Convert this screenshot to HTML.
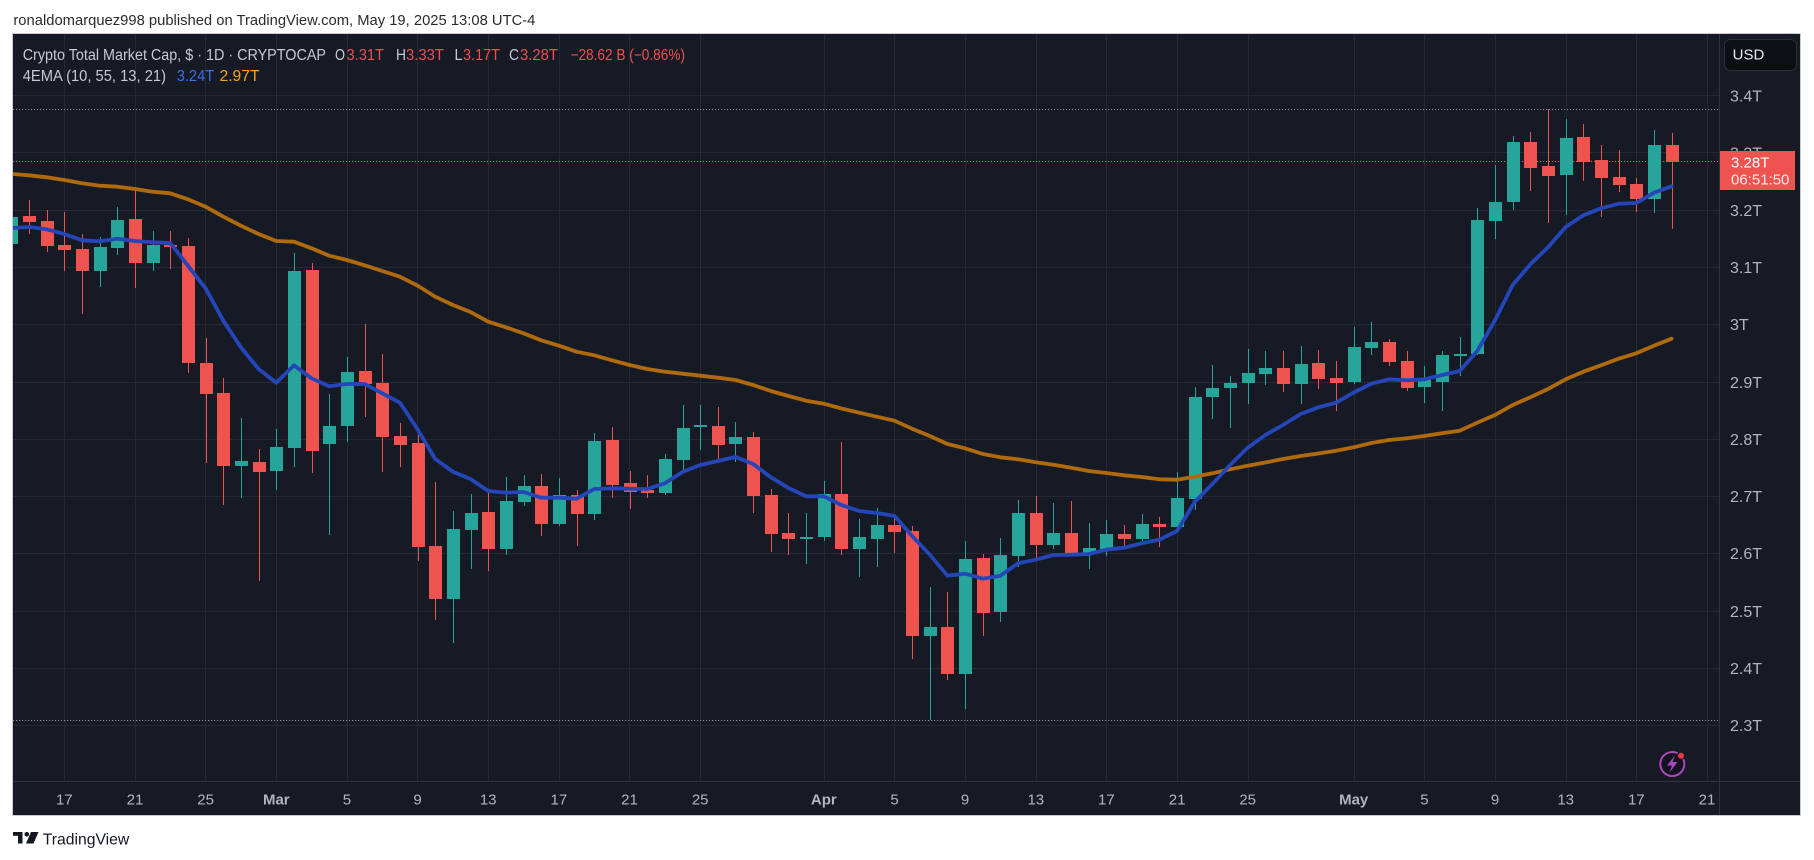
<!DOCTYPE html>
<html><head><meta charset="utf-8"><style>
html,body{margin:0;padding:0;background:#fff;}
svg{display:block;font-family:"Liberation Sans",sans-serif;}
</style></head><body>
<svg width="1814" height="860" viewBox="0 0 1814 860" xmlns="http://www.w3.org/2000/svg">
<defs><clipPath id="c"><rect x="13" y="34" width="1706" height="747"/></clipPath></defs>
<rect width="1814" height="860" fill="#fff"/>
<text x="13.4" y="25" font-size="15" fill="#2b2b2e" textLength="522" lengthAdjust="spacingAndGlyphs">ronaldomarquez998 published on TradingView.com, May 19, 2025 13:08 UTC-4</text>
<rect x="12.5" y="33.5" width="1788" height="782" fill="#161a25" stroke="#c9cbd1" stroke-width="1"/>
<g stroke="#252935" stroke-width="1" shape-rendering="crispEdges">
<line x1="64.5" y1="34" x2="64.5" y2="781"/><line x1="135.5" y1="34" x2="135.5" y2="781"/><line x1="205.5" y1="34" x2="205.5" y2="781"/><line x1="276.5" y1="34" x2="276.5" y2="781"/><line x1="347.5" y1="34" x2="347.5" y2="781"/><line x1="417.5" y1="34" x2="417.5" y2="781"/><line x1="488.5" y1="34" x2="488.5" y2="781"/><line x1="559.5" y1="34" x2="559.5" y2="781"/><line x1="629.5" y1="34" x2="629.5" y2="781"/><line x1="700.5" y1="34" x2="700.5" y2="781"/><line x1="824.5" y1="34" x2="824.5" y2="781"/><line x1="894.5" y1="34" x2="894.5" y2="781"/><line x1="965.5" y1="34" x2="965.5" y2="781"/><line x1="1036.5" y1="34" x2="1036.5" y2="781"/><line x1="1106.5" y1="34" x2="1106.5" y2="781"/><line x1="1177.5" y1="34" x2="1177.5" y2="781"/><line x1="1248.5" y1="34" x2="1248.5" y2="781"/><line x1="1354.5" y1="34" x2="1354.5" y2="781"/><line x1="1424.5" y1="34" x2="1424.5" y2="781"/><line x1="1495.5" y1="34" x2="1495.5" y2="781"/><line x1="1566.5" y1="34" x2="1566.5" y2="781"/><line x1="1636.5" y1="34" x2="1636.5" y2="781"/><line x1="1707.5" y1="34" x2="1707.5" y2="781"/>
<line x1="13" y1="95.5" x2="1719" y2="95.5"/><line x1="13" y1="152.5" x2="1719" y2="152.5"/><line x1="13" y1="210.5" x2="1719" y2="210.5"/><line x1="13" y1="267.5" x2="1719" y2="267.5"/><line x1="13" y1="324.5" x2="1719" y2="324.5"/><line x1="13" y1="382.5" x2="1719" y2="382.5"/><line x1="13" y1="439.5" x2="1719" y2="439.5"/><line x1="13" y1="496.5" x2="1719" y2="496.5"/><line x1="13" y1="553.5" x2="1719" y2="553.5"/><line x1="13" y1="611.5" x2="1719" y2="611.5"/><line x1="13" y1="668.5" x2="1719" y2="668.5"/><line x1="13" y1="725.5" x2="1719" y2="725.5"/>
</g>
<g stroke="#30343f" stroke-width="1" shape-rendering="crispEdges">
<line x1="1719.5" y1="34" x2="1719.5" y2="815"/>
<line x1="13" y1="781.5" x2="1800" y2="781.5"/>
</g>
<g stroke-width="1" fill="none">
<line x1="13" y1="109.5" x2="1719" y2="109.5" stroke="#8a8d96" stroke-dasharray="1.2 1.8"/>
<line x1="13" y1="720.5" x2="1719" y2="720.5" stroke="#8a8d96" stroke-dasharray="1.2 1.8"/>
<line x1="13" y1="161.5" x2="1719" y2="161.5" stroke="#ef5350" stroke-dasharray="1.2 1.8"/>
</g>
<g clip-path="url(#c)" shape-rendering="crispEdges">
<g fill="#ef5350">
<rect x="23" y="216" width="13" height="6"/><rect x="29" y="200" width="1" height="34"/>
<rect x="41" y="221" width="13" height="25"/><rect x="47" y="210" width="1" height="42"/>
<rect x="58" y="245" width="13" height="5"/><rect x="64" y="212" width="1" height="59"/>
<rect x="76" y="249" width="13" height="22"/><rect x="82" y="234" width="1" height="80"/>
<rect x="129" y="219" width="13" height="44"/><rect x="135" y="187" width="1" height="101"/>
<rect x="164" y="245" width="13" height="2"/><rect x="170" y="231" width="1" height="38"/>
<rect x="182" y="246" width="13" height="117"/><rect x="188" y="238" width="1" height="135"/>
<rect x="200" y="363" width="13" height="31"/><rect x="206" y="338" width="1" height="125"/>
<rect x="217" y="393" width="13" height="73"/><rect x="223" y="378" width="1" height="127"/>
<rect x="253" y="462" width="13" height="10"/><rect x="259" y="449" width="1" height="132"/>
<rect x="306" y="270" width="13" height="181"/><rect x="312" y="263" width="1" height="210"/>
<rect x="359" y="371" width="13" height="13"/><rect x="365" y="324" width="1" height="93"/>
<rect x="376" y="383" width="13" height="54"/><rect x="382" y="354" width="1" height="118"/>
<rect x="394" y="436" width="13" height="9"/><rect x="400" y="423" width="1" height="44"/>
<rect x="412" y="443" width="13" height="104"/><rect x="418" y="435" width="1" height="126"/>
<rect x="429" y="546" width="13" height="53"/><rect x="435" y="482" width="1" height="138"/>
<rect x="482" y="512" width="13" height="37"/><rect x="488" y="493" width="1" height="78"/>
<rect x="535" y="486" width="13" height="38"/><rect x="541" y="474" width="1" height="62"/>
<rect x="571" y="495" width="13" height="19"/><rect x="577" y="490" width="1" height="56"/>
<rect x="606" y="440" width="13" height="45"/><rect x="612" y="427" width="1" height="71"/>
<rect x="624" y="483" width="13" height="9"/><rect x="630" y="471" width="1" height="38"/>
<rect x="641" y="490" width="13" height="3"/><rect x="647" y="475" width="1" height="23"/>
<rect x="712" y="426" width="13" height="19"/><rect x="718" y="407" width="1" height="55"/>
<rect x="747" y="437" width="13" height="59"/><rect x="753" y="432" width="1" height="81"/>
<rect x="765" y="495" width="13" height="39"/><rect x="771" y="489" width="1" height="63"/>
<rect x="782" y="533" width="13" height="6"/><rect x="788" y="513" width="1" height="42"/>
<rect x="835" y="494" width="13" height="55"/><rect x="841" y="442" width="1" height="113"/>
<rect x="888" y="525" width="13" height="7"/><rect x="894" y="515" width="1" height="38"/>
<rect x="906" y="531" width="13" height="105"/><rect x="912" y="526" width="1" height="133"/>
<rect x="941" y="627" width="13" height="47"/><rect x="947" y="592" width="1" height="88"/>
<rect x="977" y="558" width="13" height="55"/><rect x="983" y="554" width="1" height="82"/>
<rect x="1030" y="513" width="13" height="32"/><rect x="1036" y="496" width="1" height="64"/>
<rect x="1065" y="533" width="13" height="21"/><rect x="1071" y="501" width="1" height="54"/>
<rect x="1118" y="534" width="13" height="5"/><rect x="1124" y="525" width="1" height="21"/>
<rect x="1153" y="524" width="13" height="3"/><rect x="1159" y="517" width="1" height="30"/>
<rect x="1277" y="368" width="13" height="16"/><rect x="1283" y="351" width="1" height="41"/>
<rect x="1312" y="363" width="13" height="16"/><rect x="1318" y="350" width="1" height="39"/>
<rect x="1330" y="378" width="13" height="5"/><rect x="1336" y="361" width="1" height="50"/>
<rect x="1383" y="342" width="13" height="20"/><rect x="1389" y="339" width="1" height="27"/>
<rect x="1401" y="361" width="13" height="27"/><rect x="1407" y="351" width="1" height="40"/>
<rect x="1524" y="142" width="13" height="26"/><rect x="1530" y="132" width="1" height="59"/>
<rect x="1542" y="166" width="13" height="10"/><rect x="1548" y="109" width="1" height="114"/>
<rect x="1577" y="137" width="13" height="25"/><rect x="1583" y="124" width="1" height="57"/>
<rect x="1595" y="160" width="13" height="18"/><rect x="1601" y="145" width="1" height="72"/>
<rect x="1613" y="177" width="13" height="8"/><rect x="1619" y="150" width="1" height="42"/>
<rect x="1630" y="184" width="13" height="15"/><rect x="1636" y="178" width="1" height="34"/>
<rect x="1666" y="145" width="13" height="17"/><rect x="1672" y="133" width="1" height="96"/>
</g>
<g fill="#26a69a">
<rect x="5" y="217" width="13" height="27"/>
<rect x="94" y="247" width="13" height="24"/><rect x="100" y="237" width="1" height="50"/>
<rect x="111" y="220" width="13" height="28"/><rect x="117" y="207" width="1" height="48"/>
<rect x="147" y="245" width="13" height="18"/><rect x="153" y="231" width="1" height="40"/>
<rect x="235" y="461" width="13" height="5"/><rect x="241" y="418" width="1" height="80"/>
<rect x="270" y="447" width="13" height="24"/><rect x="276" y="429" width="1" height="61"/>
<rect x="288" y="271" width="13" height="177"/><rect x="294" y="253" width="1" height="214"/>
<rect x="323" y="426" width="13" height="18"/><rect x="329" y="394" width="1" height="141"/>
<rect x="341" y="372" width="13" height="54"/><rect x="347" y="357" width="1" height="85"/>
<rect x="447" y="529" width="13" height="70"/><rect x="453" y="511" width="1" height="132"/>
<rect x="465" y="513" width="13" height="17"/><rect x="471" y="494" width="1" height="75"/>
<rect x="500" y="501" width="13" height="48"/><rect x="506" y="477" width="1" height="78"/>
<rect x="518" y="486" width="13" height="16"/><rect x="524" y="475" width="1" height="31"/>
<rect x="553" y="495" width="13" height="29"/><rect x="559" y="478" width="1" height="48"/>
<rect x="588" y="441" width="13" height="73"/><rect x="594" y="433" width="1" height="87"/>
<rect x="659" y="459" width="13" height="34"/><rect x="665" y="454" width="1" height="41"/>
<rect x="677" y="428" width="13" height="32"/><rect x="683" y="405" width="1" height="66"/>
<rect x="694" y="425" width="13" height="2"/><rect x="700" y="405" width="1" height="45"/>
<rect x="729" y="437" width="13" height="7"/><rect x="735" y="422" width="1" height="40"/>
<rect x="800" y="537" width="13" height="2"/><rect x="806" y="513" width="1" height="51"/>
<rect x="818" y="494" width="13" height="43"/><rect x="824" y="481" width="1" height="60"/>
<rect x="853" y="537" width="13" height="12"/><rect x="859" y="519" width="1" height="58"/>
<rect x="871" y="525" width="13" height="14"/><rect x="877" y="508" width="1" height="59"/>
<rect x="924" y="627" width="13" height="9"/><rect x="930" y="587" width="1" height="133"/>
<rect x="959" y="559" width="13" height="115"/><rect x="965" y="541" width="1" height="168"/>
<rect x="994" y="555" width="13" height="57"/><rect x="1000" y="538" width="1" height="84"/>
<rect x="1012" y="513" width="13" height="43"/><rect x="1018" y="500" width="1" height="67"/>
<rect x="1047" y="533" width="13" height="12"/><rect x="1053" y="503" width="1" height="46"/>
<rect x="1083" y="548" width="13" height="6"/><rect x="1089" y="523" width="1" height="46"/>
<rect x="1100" y="534" width="13" height="15"/><rect x="1106" y="520" width="1" height="36"/>
<rect x="1136" y="524" width="13" height="15"/><rect x="1142" y="514" width="1" height="27"/>
<rect x="1171" y="498" width="13" height="29"/><rect x="1177" y="472" width="1" height="60"/>
<rect x="1189" y="397" width="13" height="102"/><rect x="1195" y="387" width="1" height="123"/>
<rect x="1206" y="388" width="13" height="9"/><rect x="1212" y="365" width="1" height="54"/>
<rect x="1224" y="383" width="13" height="5"/><rect x="1230" y="376" width="1" height="52"/>
<rect x="1242" y="373" width="13" height="10"/><rect x="1248" y="349" width="1" height="55"/>
<rect x="1259" y="368" width="13" height="6"/><rect x="1265" y="351" width="1" height="34"/>
<rect x="1295" y="364" width="13" height="20"/><rect x="1301" y="346" width="1" height="58"/>
<rect x="1348" y="347" width="13" height="35"/><rect x="1354" y="327" width="1" height="57"/>
<rect x="1365" y="342" width="13" height="6"/><rect x="1371" y="322" width="1" height="33"/>
<rect x="1418" y="380" width="13" height="7"/><rect x="1424" y="366" width="1" height="37"/>
<rect x="1436" y="355" width="13" height="27"/><rect x="1442" y="351" width="1" height="60"/>
<rect x="1454" y="354" width="13" height="2"/><rect x="1460" y="337" width="1" height="39"/>
<rect x="1471" y="220" width="13" height="134"/><rect x="1477" y="208" width="1" height="147"/>
<rect x="1489" y="202" width="13" height="19"/><rect x="1495" y="165" width="1" height="74"/>
<rect x="1507" y="142" width="13" height="60"/><rect x="1513" y="136" width="1" height="74"/>
<rect x="1560" y="138" width="13" height="37"/><rect x="1566" y="119" width="1" height="96"/>
<rect x="1648" y="145" width="13" height="54"/><rect x="1654" y="130" width="1" height="83"/>
</g>
</g>
<g clip-path="url(#c)" fill="none" stroke-width="3.8" stroke-linejoin="round" stroke-linecap="round">
<polyline stroke="#b06a0e" points="13,174 29,175.3 46.6,177.3 64.3,180 82,183.3 99.6,185.7 117.3,186.7 135,189 152.6,191.7 170.3,193.3 187.9,199.3 205.6,206.7 223.3,216.7 240.9,225.7 258.6,234 276.3,241 293.9,241.7 311.6,248.3 329.2,255.7 346.9,260 364.6,265.3 382.2,271 399.9,276.7 417.6,285.7 435.2,296.7 452.9,305 470.5,312 488.2,321.7 505.9,327.3 523.5,333.3 541.2,340.3 558.9,345.7 576.5,351.7 594.2,355.3 611.9,360.3 629.5,365 647.2,369 664.8,371.7 682.5,373.7 700.2,375.7 717.8,377.7 735.5,380 753.2,385 770.8,391 788.5,396 806.1,400.7 823.8,403.7 841.5,408.5 859.1,412.7 876.8,416.7 894.5,420.7 912.1,428.7 929.8,436 947.5,444 965.1,448.3 982.8,454 1000.4,457.3 1018.1,459.3 1035.8,462.3 1053.4,464.7 1071.1,467.7 1088.8,471 1106.4,473 1124.1,475.3 1141.7,477 1159.4,479.3 1177.1,479.7 1194.7,476.7 1212.4,473.3 1230.1,469.3 1247.7,465.7 1265.4,462.5 1283,459 1300.7,456 1318.4,453.5 1336,450.7 1353.7,447.3 1371.4,443 1389,440 1406.7,438.3 1424.4,436 1442,433.3 1459.7,430.7 1477.3,422.7 1495,415 1512.7,405 1530.3,397.3 1548,389 1565.7,379.3 1583.3,371.7 1601,365.3 1618.7,358.7 1636.3,353.3 1654,345.7 1671.6,338.7"/>
<polyline stroke="#2446b8" points="13,228 29,227 46.6,229.3 64.3,234 82,240.3 99.6,241.3 117.3,238.7 135,241 152.6,242.3 170.3,243 187.9,265.7 205.6,288.3 223.3,320.7 240.9,347.3 258.6,369 276.3,382.7 293.9,365.3 311.6,378.3 329.2,386.3 346.9,384 364.6,384 382.2,393.3 399.9,402.7 417.6,429.3 435.2,459 452.9,471.7 470.5,479 488.2,491 505.9,492.7 523.5,492 541.2,497.7 558.9,497.7 576.5,498.7 594.2,489 611.9,488.3 629.5,488.7 647.2,489 664.8,483.3 682.5,472 700.2,465 717.8,461 735.5,457 753.2,464 770.8,477.3 788.5,488 806.1,496.3 823.8,496.3 841.5,505 859.1,511 876.8,513 894.5,516 912.1,536 929.8,554.7 947.5,575.7 965.1,573.7 982.8,578.7 1000.4,575.7 1018.1,563.3 1035.8,559.7 1053.4,555 1071.1,554.7 1088.8,554 1106.4,549.7 1124.1,547.7 1141.7,543.3 1159.4,539.7 1177.1,531 1194.7,502 1212.4,484 1230.1,465 1247.7,447.7 1265.4,435 1283,425 1300.7,414 1318.4,407.3 1336,402.7 1353.7,392.5 1371.4,383.7 1389,379.3 1406.7,380.3 1424.4,379.3 1442,375 1459.7,371 1477.3,351 1495,320.3 1512.7,285 1530.3,264.3 1548,247.3 1565.7,227 1583.3,215.3 1601,208.3 1618.7,203.7 1636.3,203 1654,192.7 1671.6,186.3"/>
</g>
<text x="22.7" y="60" font-size="15.5" fill="#c7cad1" textLength="303.3" lengthAdjust="spacingAndGlyphs">Crypto Total Market Cap, $ · 1D · CRYPTOCAP</text>
<g font-size="15.5">
<text x="335" y="60" fill="#c7cad1" textLength="10" lengthAdjust="spacingAndGlyphs">O</text>
<text x="346.5" y="60" fill="#f0504f" textLength="37.5" lengthAdjust="spacingAndGlyphs">3.31T</text>
<text x="396" y="60" fill="#c7cad1" textLength="10" lengthAdjust="spacingAndGlyphs">H</text>
<text x="406" y="60" fill="#f0504f" textLength="38" lengthAdjust="spacingAndGlyphs">3.33T</text>
<text x="454.5" y="60" fill="#c7cad1" textLength="8" lengthAdjust="spacingAndGlyphs">L</text>
<text x="463" y="60" fill="#f0504f" textLength="37" lengthAdjust="spacingAndGlyphs">3.17T</text>
<text x="509" y="60" fill="#c7cad1" textLength="10" lengthAdjust="spacingAndGlyphs">C</text>
<text x="520" y="60" fill="#f0504f" textLength="38" lengthAdjust="spacingAndGlyphs">3.28T</text>
<text x="570.5" y="60" fill="#f0504f" textLength="114.5" lengthAdjust="spacingAndGlyphs">−28.62 B (−0.86%)</text>
<text x="22.7" y="81" fill="#c7cad1" textLength="143.3" lengthAdjust="spacingAndGlyphs">4EMA (10, 55, 13, 21)</text>
<text x="176.7" y="81" fill="#3d6ee8" textLength="37.5" lengthAdjust="spacingAndGlyphs">3.24T</text>
<text x="219.5" y="81" fill="#f7a21b" textLength="40" lengthAdjust="spacingAndGlyphs">2.97T</text>
</g>
<g font-size="16" fill="#b2b5be">
<text x="1730" y="101.5">3.4T</text>
<text x="1730" y="158.5">3.3T</text>
<text x="1730" y="216">3.2T</text>
<text x="1730" y="273">3.1T</text>
<text x="1730" y="330">3T</text>
<text x="1730" y="388">2.9T</text>
<text x="1730" y="445">2.8T</text>
<text x="1730" y="502">2.7T</text>
<text x="1730" y="559">2.6T</text>
<text x="1730" y="617">2.5T</text>
<text x="1730" y="674">2.4T</text>
<text x="1730" y="731">2.3T</text>
</g>
<rect x="1720" y="151" width="75" height="39" fill="#ef5350"/>
<text x="1731" y="167.5" font-size="15" fill="#ffffff">3.28T</text>
<text x="1731" y="184.5" font-size="15" fill="#fdeceb">06:51:50</text>
<rect x="1724.5" y="39.5" width="72" height="31" rx="6" fill="#0e0f12" stroke="#2c2f38" stroke-width="1"/>
<text x="1748.5" y="59.7" font-size="15" fill="#e6e8ee" text-anchor="middle">USD</text>
<g font-size="15" fill="#b2b5be" text-anchor="middle">
<text x="64.3" y="804.5">17</text><text x="135" y="804.5">21</text><text x="205.6" y="804.5">25</text><text x="276.3" y="804.5" font-weight="bold">Mar</text><text x="346.9" y="804.5">5</text><text x="417.6" y="804.5">9</text><text x="488.2" y="804.5">13</text><text x="558.9" y="804.5">17</text><text x="629.5" y="804.5">21</text><text x="700.2" y="804.5">25</text><text x="823.8" y="804.5" font-weight="bold">Apr</text><text x="894.5" y="804.5">5</text><text x="965.1" y="804.5">9</text><text x="1035.8" y="804.5">13</text><text x="1106.4" y="804.5">17</text><text x="1177.1" y="804.5">21</text><text x="1247.7" y="804.5">25</text><text x="1353.7" y="804.5" font-weight="bold">May</text><text x="1424.4" y="804.5">5</text><text x="1495" y="804.5">9</text><text x="1565.7" y="804.5">13</text><text x="1636.3" y="804.5">17</text><text x="1707" y="804.5">21</text>
</g>
<circle cx="1672.3" cy="764" r="12" fill="#15121f" stroke="#ab47bc" stroke-width="2"/>
<path d="M1675 755.5 L1667 765.5 L1672 765.5 L1669.5 772.5 L1677.5 762 L1672.5 762 Z" fill="#ab47bc"/>
<circle cx="1681" cy="755.7" r="3.6" fill="#f23645" stroke="#161a25" stroke-width="1.2"/>
<g fill="#131722">
<rect x="13" y="832" width="9.5" height="3.8"/>
<rect x="18" y="832" width="4.5" height="11.5"/>
<circle cx="26.8" cy="834.3" r="2.3"/>
<polygon points="31,832 38.5,832 33.5,843.5 26,843.5"/>
</g>
<text x="42.7" y="844.5" font-size="16" fill="#131722" textLength="86.6" lengthAdjust="spacingAndGlyphs">TradingView</text>
</svg>
</body></html>
